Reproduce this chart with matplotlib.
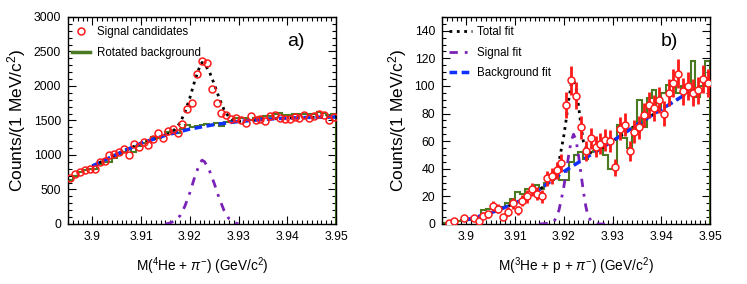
import numpy as np
import matplotlib
matplotlib.use("Agg")
from matplotlib import pyplot as plt
from matplotlib.ticker import MultipleLocator, FixedLocator

plt.rcParams['font.family'] = ['Liberation Sans', 'DejaVu Sans']
plt.rcParams['mathtext.fontset'] = 'custom'
plt.rcParams['mathtext.rm'] = 'Liberation Sans'
plt.rcParams['mathtext.it'] = 'Liberation Sans:italic'

# bin centres, 1 MeV bins from 3.895 to 3.950 GeV
edges = np.round(np.arange(3.895, 3.9505, 0.001), 4)
centres = edges[:-1] + 0.0005

# ---- panel a) 4He + pi-
a_data = [670, 720, 755, 785, 795, 800, 905, 915, 995, 1010,
          1040, 1080, 1005, 1155, 1120, 1195, 1150, 1235, 1325, 1250,
          1350, 1375, 1325, 1450, 1660, 1760, 2170, 2360, 2335, 1960,
          1750, 1615, 1585, 1525, 1530, 1510, 1470, 1570, 1505, 1525,
          1495, 1560, 1585, 1530, 1520, 1520, 1545, 1540, 1575, 1540,
          1570, 1590, 1575, 1505, 1545]
a_rot = [640, 700, 750, 780, 790, 800, 870, 900, 905, 960,
         1010, 1050, 1080, 1050, 1130, 1170, 1200, 1260, 1250, 1280,
         1330, 1350, 1320, 1380, 1430, 1410, 1420, 1430, 1450, 1440,
         1470, 1420, 1480, 1490, 1540, 1540, 1530, 1500, 1540, 1550,
         1560, 1560, 1590, 1610, 1580, 1580, 1590, 1590, 1600, 1600,
         1600, 1620, 1610, 1580, 1600]
a_bg_x = [3.900, 3.905, 3.910, 3.915, 3.920, 3.925, 3.930, 3.935, 3.940, 3.945, 3.950]
a_bg_y = [840, 1010, 1170, 1285, 1375, 1440, 1485, 1515, 1535, 1545, 1550]
a_sig_x = [3.915, 3.916, 3.917, 3.918, 3.919, 3.920, 3.921, 3.922, 3.9225,
           3.923, 3.924, 3.925, 3.926, 3.927, 3.928, 3.929, 3.930]
a_sig_y = [0, 15, 50, 120, 260, 450, 680, 870, 925, 905, 780, 590, 380, 200, 80, 25, 0]
a_tot_x = [3.900, 3.905, 3.910, 3.915, 3.916, 3.917, 3.918, 3.919, 3.920, 3.921,
           3.922, 3.9225, 3.923, 3.924, 3.925, 3.926, 3.927, 3.928, 3.929, 3.930,
           3.935, 3.940, 3.945, 3.950]
a_tot_y = [840, 1010, 1170, 1285, 1320, 1375, 1465, 1620, 1825, 2070,
           2275, 2340, 2320, 2210, 2030, 1830, 1660, 1550, 1500, 1485,
           1515, 1535, 1545, 1550]

# ---- panel b) 3He + p + pi-
b_data = [0, 1, 2, 0, 4, 0, 4, 2, 6, 7,
          13, 11, 5, 9, 15, 10, 17, 20, 25, 22,
          20, 33, 35, 39, 44, 86, 104, 93, 70, 53,
          62, 56, 58, 61, 60, 41, 69, 72, 53, 67,
          70, 79, 86, 84, 90, 80, 95, 102, 109, 96,
          100, 95, 97, 105, 102]
b_rot = [1, 1, 1, 2, 3, 3, 3, 5, 10, 11,
         12, 10, 12, 15, 18, 23, 22, 25, 25, 28,
         25, 30, 32, 35, 32, 32, 45, 50, 52, 47,
         52, 53, 55, 50, 40, 40, 72, 62, 55, 70,
         90, 70, 91, 97, 85, 95, 101, 100, 95, 100,
         95, 118, 92, 100, 118]
b_bg_x = [3.900, 3.905, 3.910, 3.915, 3.920, 3.925, 3.930, 3.935, 3.940, 3.945]
b_bg_y = [3, 8, 15, 25, 38, 49, 60, 72, 83, 94]
b_sig_x = [3.915, 3.917, 3.918, 3.9185, 3.919, 3.9195, 3.920, 3.9205, 3.921, 3.9215,
           3.922, 3.9225, 3.923, 3.9235, 3.924, 3.9245, 3.925, 3.926, 3.927, 3.930]
b_sig_y = [0, 0.5, 2, 5, 10, 18, 27, 38, 50, 60, 65, 61, 50, 37, 24, 13, 5, 1, 0, 0]
b_tot_x = [3.900, 3.905, 3.910, 3.915, 3.917, 3.918, 3.919, 3.920, 3.9205, 3.921,
           3.9215, 3.922, 3.9225, 3.923, 3.9235, 3.924, 3.925, 3.926, 3.930, 3.935,
           3.940, 3.945]
b_tot_y = [3, 8, 15, 25, 30, 34.5, 45, 64, 76, 90,
           101, 104, 99, 86, 72, 60, 52, 51, 60, 72,
           83, 94]

red = '#ff1a1a'
green = '#4a7a22'
blue = '#1030ff'
purple = '#7a22b8'
dash_bg = (2.2, 1.3)
dash_sig = (3, 2.5, 1, 2.5)

fig = plt.figure(figsize=(7.47, 2.84), dpi=100)
ax1 = fig.add_axes([0.091, 0.2113, 0.3588, 0.729])
ax2 = fig.add_axes([0.5917, 0.2113, 0.3588, 0.729])


def style_axes(ax, ymax, ymajor, yminor, ylabels):
    ax.set_xlim(3.895, 3.95)
    ax.set_ylim(0, ymax)
    ax.xaxis.set_major_locator(FixedLocator([3.90, 3.91, 3.92, 3.93, 3.94, 3.95]))
    ax.set_xticklabels(['3.9', '3.91', '3.92', '3.93', '3.94', '3.95'])
    ax.xaxis.set_minor_locator(MultipleLocator(0.001))
    ax.yaxis.set_major_locator(MultipleLocator(ymajor))
    ax.yaxis.set_minor_locator(MultipleLocator(yminor))
    ax.set_yticks(ylabels)
    ax.tick_params(which='both', direction='in', top=True, right=True, labelsize=8.8, width=0.8)
    ax.tick_params(which='major', length=6, pad=5)
    ax.tick_params(which='minor', length=3)
    for s in ax.spines.values():
        s.set_linewidth(1.0)
    ax.set_ylabel('Counts/(1 MeV/c$^2$)', fontsize=12.5, labelpad=4)


# panel a
ax1.stairs(a_rot, edges, color=green, lw=1.5, zorder=2)
ax1.plot(a_tot_x, a_tot_y, ':', color='black', lw=2, zorder=3)
ax1.plot(a_bg_x, a_bg_y, '--', color=blue, lw=2.5, dashes=dash_bg, zorder=4)
ax1.plot(a_sig_x, a_sig_y, '-.', color=purple, lw=2, dashes=dash_sig, zorder=4)
ax1.plot(centres, a_data, 'o', mfc='none', mec=red, mew=1.1, ms=5, zorder=5)
style_axes(ax1, 3000, 500, 100, [0, 500, 1000, 1500, 2000, 2500, 3000])
ax1.set_xlabel('M($^{4}$He + $\\pi^{-}$) (GeV/c$^2$)', fontsize=9.8, labelpad=9)
ax1.text(0.85, 0.86, 'a)', transform=ax1.transAxes, fontsize=14, ha='center')
ax1.plot([], [], 'o', mfc='none', mec=red, mew=1.1, ms=5, label='Signal candidates')
ax1.plot([], [], '-', color=green, lw=2.5, label='Rotated background')
h, l = ax1.get_legend_handles_labels()
ax1.legend(h[-2:], l[-2:], loc='upper left', frameon=False, fontsize=8.3,
           handlelength=1.6, handletextpad=0.6, labelspacing=0.8,
           borderaxespad=0.4, bbox_to_anchor=(-0.02, 1.0))

# panel b
b_arr = np.array(b_data, dtype=float)
mask = b_arr > 0
ax2.stairs(b_rot, edges, color=green, lw=1.5, zorder=2)
ax2.plot(b_tot_x, b_tot_y, ':', color='black', lw=2, zorder=3, label='Total fit')
ax2.plot(b_sig_x, b_sig_y, '-.', color=purple, lw=2, dashes=dash_sig, zorder=4, label='Signal fit')
ax2.plot(b_bg_x, b_bg_y, '--', color=blue, lw=2.5, dashes=dash_bg, zorder=4, label='Background fit')
ax2.errorbar(centres[mask], b_arr[mask], yerr=np.sqrt(b_arr[mask]), fmt='o',
             mfc='white', mec=red, ecolor=red, elinewidth=2, mew=1.1, ms=5, zorder=5)
style_axes(ax2, 150, 20, 5, [0, 20, 40, 60, 80, 100, 120, 140])
ax2.set_xlabel('M($^{3}$He + p + $\\pi^{-}$) (GeV/c$^2$)', fontsize=9.8, labelpad=9)
ax2.text(0.85, 0.86, 'b)', transform=ax2.transAxes, fontsize=14, ha='center')
ax2.legend(loc='upper left', frameon=False, fontsize=8.3, handlelength=2.0,
           handletextpad=0.5, labelspacing=0.75, borderaxespad=0.4,
           bbox_to_anchor=(-0.01, 1.0))

fig.savefig('out.png', dpi=100)
